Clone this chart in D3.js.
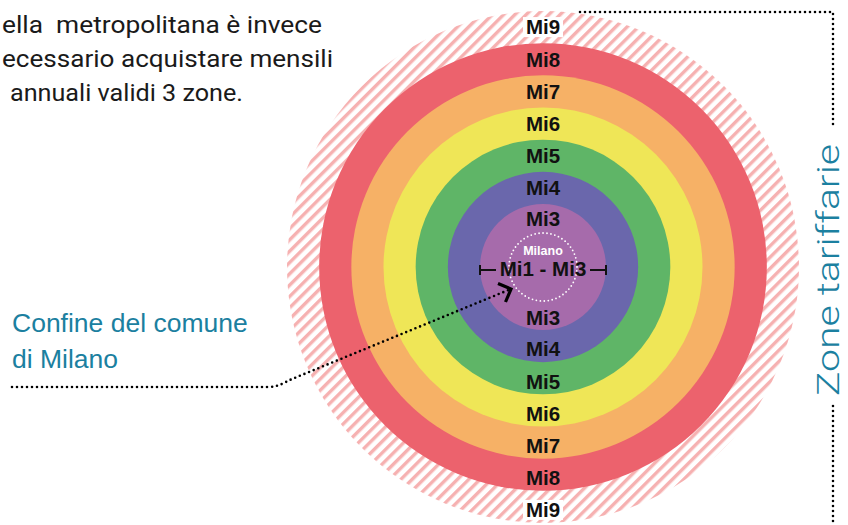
<!DOCTYPE html>
<html>
<head>
<meta charset="utf-8">
<script src="https://cdn.jsdelivr.net/npm/d3@7"></script>
<style>
  body { margin: 0; background: #fff; }
  svg { display: block; }
  text { white-space: pre; }
</style>
</head>
<body>
<svg id="chart" width="848" height="525"></svg>
<script>
// zone rings, outermost first (Mi9 is the hatched outer ring)
var zoneNums = [9, 8, 7, 6, 5, 4, 3];
var zoneNames = ["Mi9", "Mi8", "Mi7", "Mi6", "Mi5", "Mi4", "Mi3"];
var zoneColors = ["url(#hatch)", "#ec626d", "#f6b166", "#efe657", "#5fb567", "#6a67ac", "#a66bab"];
var centerLabel = "Mi1 - Mi3";
var cityLabel = "Milano";
var introLines = ["ella  metropolitana è invece", "ecessario acquistare mensili", "annuali validi 3 zone."];
var calloutLines = ["Confine del comune", "di Milano"];
var sideTitle = "Zone tariffarie";

var svg = d3.select('#chart');
var cx = 543, cy = 267;
var teal = '#1b80a0';

// outer radius of each zone ring
var rScale = d3.scaleLinear().domain([3, 9]).range([63, 256]);
var cityR = 34;

var defs = svg.append('defs');
var pat = defs.append('pattern')
    .attr('id', 'hatch')
    .attr('patternUnits', 'userSpaceOnUse')
    .attr('width', 8).attr('height', 8)
    .attr('patternTransform', 'rotate(45)');
pat.append('rect').attr('width', 8).attr('height', 8).attr('fill', '#fff');
pat.append('rect').attr('width', 3.4).attr('height', 8).attr('fill', '#f6b1b1');

var g = svg.append('g').attr('transform', `translate(${cx},${cy})`);

// rings
g.selectAll('circle.ring')
    .data(zoneNums)
    .enter()
    .append('circle')
    .attr('class', 'ring')
    .attr('r', function(d){ return rScale(d); })
    .attr('fill', function(d, i){ return zoneColors[i]; });

// Milano boundary
g.append('circle')
    .attr('r', cityR)
    .attr('fill', 'none')
    .attr('stroke', '#fff')
    .attr('stroke-width', 1.8)
    .attr('stroke-linecap', 'round')
    .attr('stroke-dasharray', '0 4');

// ring labels top and bottom
function labelOffset(d){
    var inner = d === 3 ? cityR : rScale(d - 1);
    return (rScale(d) + inner) / 2;
}
var labelData = [];
zoneNums.forEach(function(d, i){
    labelData.push({name: zoneNames[i], z: d, y: -labelOffset(d)});
    labelData.push({name: zoneNames[i], z: d, y: labelOffset(d) + (d === 3 ? 2 : 3)});
});

var labels = g.selectAll('g.lbl')
    .data(labelData)
    .enter()
    .append('g')
    .attr('class', 'lbl')
    .attr('transform', function(d){ return `translate(0,${d.y})`; });

labels.filter(function(d){ return d.z === 9; })
    .append('rect')
    .attr('x', -20).attr('y', -10)
    .attr('width', 40).attr('height', 20)
    .attr('fill', '#fff');

labels.append('text')
    .attr('text-anchor', 'middle')
    .attr('dy', '0.36em')
    .attr('font-family', '"Liberation Sans", Arial, sans-serif')
    .attr('font-weight', 'bold')
    .attr('font-size', 20.5)
    .attr('fill', '#111')
    .text(function(d){ return d.name; });

// centre label with bracket
g.append('text')
    .attr('y', 2)
    .attr('text-anchor', 'middle')
    .attr('dy', '0.36em')
    .attr('font-family', '"Liberation Sans", Arial, sans-serif')
    .attr('font-weight', 'bold')
    .attr('font-size', 20.5)
    .attr('fill', '#111')
    .text(centerLabel);

g.append('text')
    .attr('y', -17)
    .attr('text-anchor', 'middle')
    .attr('dy', '0.36em')
    .attr('font-family', '"Liberation Sans", Arial, sans-serif')
    .attr('font-weight', 'bold')
    .attr('font-size', 12.5)
    .attr('fill', '#fff')
    .text(cityLabel);

var r3 = rScale(3);
var bracket = d3.path();
bracket.moveTo(-r3, 3); bracket.lineTo(-47, 3);
bracket.moveTo(-r3, -2); bracket.lineTo(-r3, 8);
bracket.moveTo(47, 3); bracket.lineTo(r3, 3);
bracket.moveTo(r3, -2); bracket.lineTo(r3, 8);
g.append('path')
    .attr('d', bracket.toString())
    .attr('stroke', '#111')
    .attr('stroke-width', 2)
    .attr('fill', 'none');

// intro text (cut at the left edge)
svg.selectAll('text.intro')
    .data(introLines)
    .enter()
    .append('text')
    .attr('class', 'intro')
    .attr('x', function(d, i){ return i === 2 ? 10 : 2; })
    .attr('y', function(d, i){ return 33 + i * 34; })
    .attr('textLength', function(d, i){ return [320, 331, 233][i]; })
    .attr('lengthAdjust', 'spacingAndGlyphs')
    .attr('font-family', 'Roboto, Inter, sans-serif')
    .attr('font-size', 24.5)
    .attr('fill', '#1a1a1a')
    .text(function(d){ return d; });

// callout text
svg.selectAll('text.callout')
    .data(calloutLines)
    .enter()
    .append('text')
    .attr('class', 'callout')
    .attr('x', 12)
    .attr('y', function(d, i){ return 332 + i * 36; })
    .attr('font-family', '"Liberation Sans", Arial, sans-serif')
    .attr('font-size', 26.5)
    .attr('fill', teal)
    .text(function(d){ return d; });

// dotted leader to Milano boundary
var tip = [511, 289];
var lead = d3.path();
lead.moveTo(12, 387);
lead.lineTo(268, 387);
lead.bezierCurveTo(279, 387, 285, 382, 292, 379);
lead.lineTo(tip[0], tip[1]);
svg.append('path')
    .attr('d', lead.toString())
    .attr('fill', 'none')
    .attr('stroke', '#000')
    .attr('stroke-width', 2.6)
    .attr('stroke-linecap', 'round')
    .attr('stroke-dasharray', '0 5');

var head = d3.path();
head.moveTo(tip[0] - 13, tip[1] - 5.5);
head.lineTo(tip[0], tip[1]);
head.lineTo(tip[0] - 5.5, tip[1] + 13);
svg.append('path')
    .attr('d', head.toString())
    .attr('fill', 'none')
    .attr('stroke', '#000')
    .attr('stroke-width', 3.2);

// side bracket with title
var side = d3.path();
side.moveTo(580, 12); side.lineTo(833, 12); side.lineTo(833, 128);
side.moveTo(833, 406); side.lineTo(833, 525);
svg.append('path')
    .attr('d', side.toString())
    .attr('fill', 'none')
    .attr('stroke', '#000')
    .attr('stroke-width', 2.6)
    .attr('stroke-linecap', 'round')
    .attr('stroke-dasharray', '0 5');

svg.append('text')
    .attr('transform', 'translate(839,270) rotate(-90)')
    .attr('text-anchor', 'middle')
    .attr('textLength', 252)
    .attr('lengthAdjust', 'spacingAndGlyphs')
    .attr('font-family', 'Roboto, "Liberation Sans", sans-serif')
    .attr('font-weight', 300)
    .attr('font-size', 32)
    .attr('fill', teal)
    .text(sideTitle);
</script>
</body>
</html>
